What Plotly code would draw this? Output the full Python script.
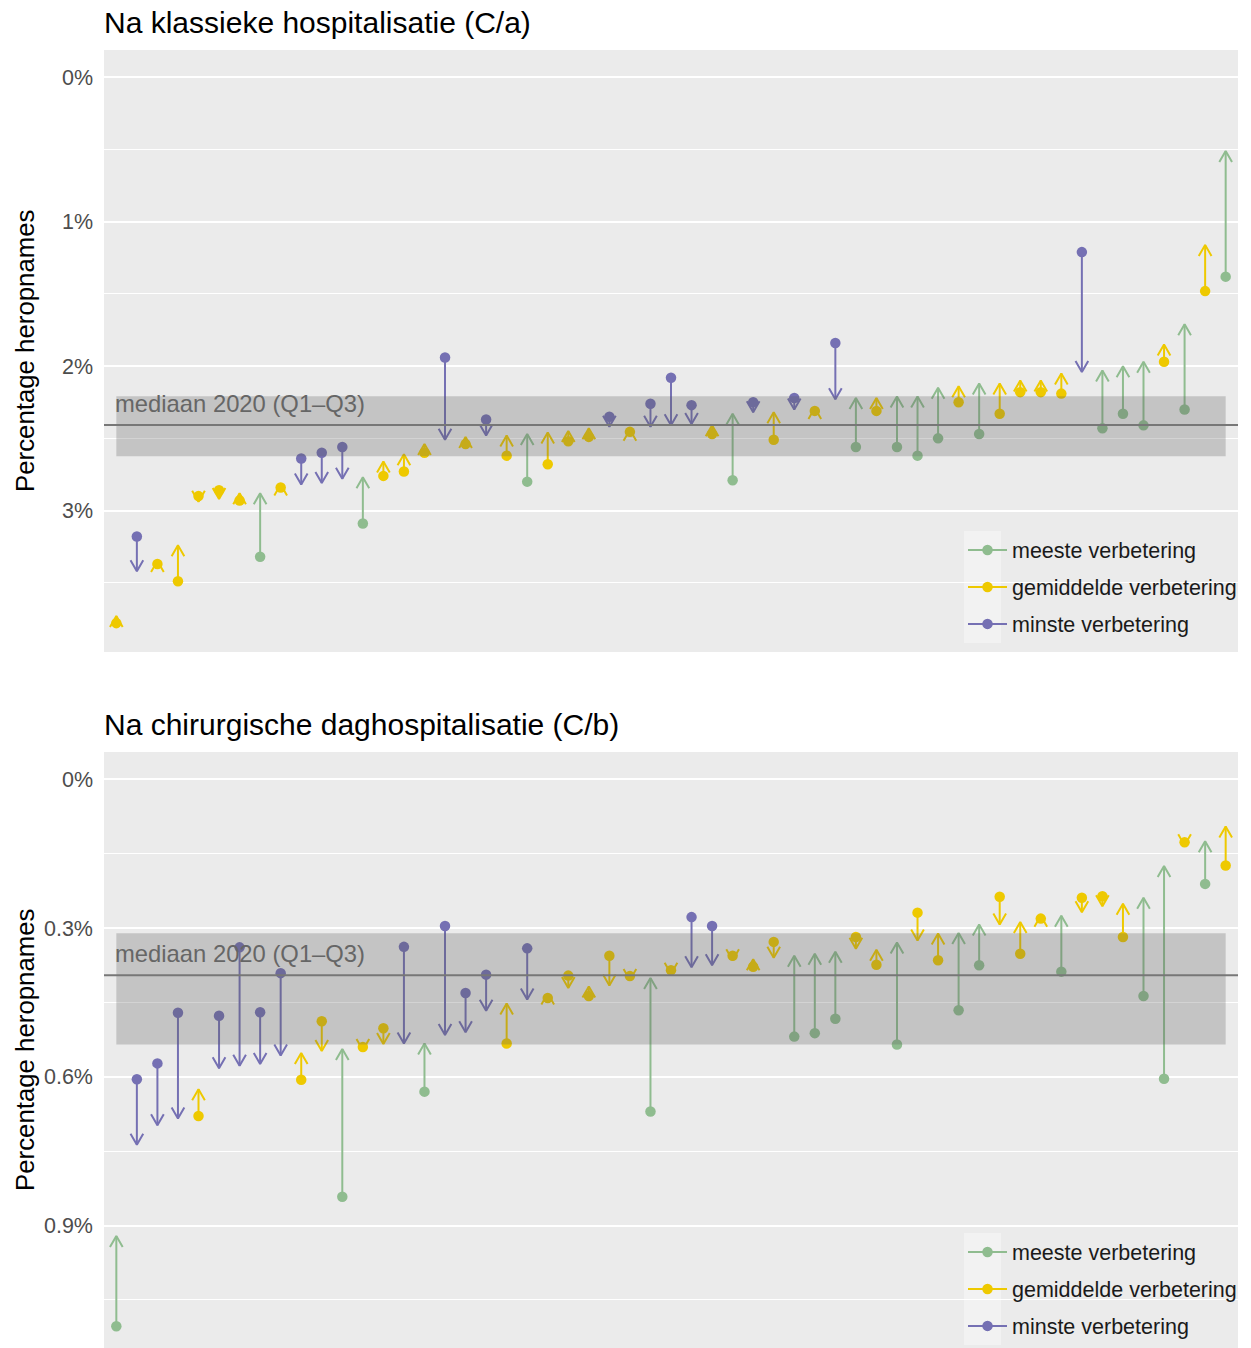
import plotly.graph_objects as go

# ---------------------------------------------------------------------------
# Data: readmission percentage per hospital, start value (dot) and new value
# (arrow tip). Hospitals are ordered left to right. Group codes:
#   M = meeste verbetering, G = gemiddelde verbetering, L = minste verbetering
# ---------------------------------------------------------------------------

# Panel C/a: na klassieke hospitalisatie
group_a = ["G", "L", "G", "G", "G", "G", "G", "M", "G", "L",
           "L", "L", "M", "G", "G", "G", "L", "G", "L", "G",
           "M", "G", "G", "G", "L", "G", "L", "L", "L", "G",
           "M", "L", "G", "L", "G", "L", "M", "G", "M", "M",
           "M", "G", "M", "G", "G", "G", "G", "L", "M", "M",
           "M", "G", "M", "G", "M"]
start_a = [3.78, 3.18, 3.37, 3.49, 2.90, 2.86, 2.93, 3.32, 2.84, 2.64,
           2.60, 2.56, 3.09, 2.76, 2.73, 2.60, 1.94, 2.54, 2.37, 2.62,
           2.80, 2.68, 2.52, 2.49, 2.35, 2.455, 2.26, 2.08, 2.27, 2.47,
           2.79, 2.25, 2.51, 2.22, 2.31, 1.84, 2.56, 2.31, 2.56, 2.62,
           2.50, 2.25, 2.47, 2.33, 2.18, 2.18, 2.19, 1.21, 2.43, 2.33,
           2.41, 1.97, 2.30, 1.48, 1.38]
end_a = [3.73, 3.42, 3.35, 3.24, 2.94, 2.92, 2.88, 2.88, 2.82, 2.82,
         2.81, 2.78, 2.77, 2.66, 2.61, 2.54, 2.51, 2.49, 2.48, 2.48,
         2.47, 2.46, 2.45, 2.43, 2.42, 2.44, 2.42, 2.41, 2.40, 2.41,
         2.33, 2.32, 2.32, 2.30, 2.29, 2.23, 2.22, 2.22, 2.21, 2.21,
         2.15, 2.14, 2.12, 2.12, 2.10, 2.10, 2.05, 2.04, 2.03, 2.00,
         1.97, 1.85, 1.71, 1.16, 0.51]
median_a, q1_a, q3_a = 2.408, 2.209, 2.624

# Panel C/b: na chirurgische daghospitalisatie
group_b = ["M", "L", "L", "L", "G", "L", "L", "L", "L", "G",
           "G", "M", "G", "G", "L", "M", "L", "L", "L", "G",
           "L", "G", "G", "G", "G", "G", "M", "G", "L", "L",
           "G", "G", "G", "M", "M", "M", "G", "G", "M", "G",
           "G", "M", "M", "G", "G", "G", "M", "G", "G", "G",
           "M", "M", "G", "M", "G"]
start_b = [1.103, 0.605, 0.573, 0.471, 0.679, 0.477, 0.339, 0.470, 0.391, 0.606,
           0.488, 0.842, 0.540, 0.502, 0.338, 0.630, 0.296, 0.431, 0.394, 0.533,
           0.341, 0.441, 0.396, 0.437, 0.356, 0.397, 0.670, 0.385, 0.278, 0.296,
           0.356, 0.378, 0.328, 0.519, 0.512, 0.483, 0.318, 0.374, 0.535, 0.269,
           0.365, 0.466, 0.375, 0.237, 0.352, 0.281, 0.388, 0.239, 0.236, 0.318,
           0.437, 0.604, 0.127, 0.211, 0.174]
end_b = [0.921, 0.737, 0.698, 0.684, 0.625, 0.583, 0.578, 0.574, 0.557, 0.552,
         0.548, 0.544, 0.546, 0.534, 0.533, 0.533, 0.516, 0.510, 0.467, 0.452,
         0.444, 0.432, 0.421, 0.418, 0.416, 0.405, 0.401, 0.392, 0.379, 0.375,
         0.365, 0.363, 0.360, 0.356, 0.352, 0.348, 0.342, 0.344, 0.329, 0.325,
         0.311, 0.310, 0.293, 0.293, 0.288, 0.275, 0.275, 0.268, 0.256, 0.251,
         0.239, 0.175, 0.133, 0.125, 0.095]
median_b, q1_b, q3_b = 0.395, 0.3106, 0.535

titles = ["Na klassieke hospitalisatie (C/a)",
          "Na chirurgische daghospitalisatie (C/b)"]
y_title = "Percentage heropnames"
band_label = "mediaan 2020 (Q1\u2013Q3)"

group_names = {"M": "meeste verbetering",
               "G": "gemiddelde verbetering",
               "L": "minste verbetering"}
group_colors = {"M": "#8FBC8F", "G": "#EEC900", "L": "#7570B3"}

ticks_a = [0, 1, 2, 3]
minor_a = [0.5, 1.5, 2.5, 3.5]
ticks_b = [0, 0.3, 0.6, 0.9]
minor_b = [0.15, 0.45, 0.75, 1.05]

# ---------------------------------------------------------------------------
# Geometry / style
# ---------------------------------------------------------------------------
W, H = 1251, 1348
ML, MR, MT, MB = 104, 13, 50, 0
PW, PH = W - ML - MR, H - MT - MB
FONT = "Liberation Sans, Arial, sans-serif"

X_RANGE = [0.4, 55.6]
Y_RANGE_A = [3.98, -0.19]
Y_RANGE_B = [1.147, -0.055]
# panel pixel extents (top, bottom) measured from the top of the figure
PANEL_A = (50, 652)
PANEL_B = (752, 1348)

HEAD_DX_PX = 6.35   # half width of the open arrow head
HEAD_DY_PX = 11.0   # depth of the open arrow head
LINE_W = 2.0
DOT_SIZE = 10.5


def dom(panel):
    top, bot = panel
    return [(H - MB - bot) / PH, (H - MB - top) / PH]


def arrow_xy(xs, s, e, yr, panel):
    ux = (X_RANGE[1] - X_RANGE[0]) / PW
    uy = abs(yr[0] - yr[1]) / (panel[1] - panel[0])
    bx, by = HEAD_DX_PX * ux, HEAD_DY_PX * uy
    X, Y = [], []
    for xi, si, ei in zip(xs, s, e):
        d = 1 if si > ei else -1
        X += [xi, xi, None, xi - bx, xi, xi + bx, None]
        Y += [si, ei, None, ei + d * by, ei, ei + d * by, None]
    return X, Y


fig = go.Figure()

panels = [
    (group_a, start_a, end_a, "x", "y", "legend", Y_RANGE_A, PANEL_A),
    (group_b, start_b, end_b, "x2", "y2", "legend2", Y_RANGE_B, PANEL_B),
]

for groups, s, e, xa, ya, leg, yr, panel in panels:
    xs = list(range(1, len(s) + 1))
    for code in ["M", "G", "L"]:
        idx = [i for i, g in enumerate(groups) if g == code]
        gx = [xs[i] for i in idx]
        gs = [s[i] for i in idx]
        ge = [e[i] for i in idx]
        ax_, ay_ = arrow_xy(gx, gs, ge, yr, panel)
        fig.add_trace(go.Scatter(
            x=ax_, y=ay_, mode="lines", xaxis=xa, yaxis=ya,
            line=dict(color=group_colors[code], width=LINE_W),
            legendgroup=leg + code, legend=leg, showlegend=False,
            hoverinfo="skip"))
        dx, dy = [], []
        for xi, si in zip(gx, gs):
            dx += [xi, None]
            dy += [si, None]
        fig.add_trace(go.Scatter(
            x=dx, y=dy, mode="lines+markers", xaxis=xa, yaxis=ya,
            name=group_names[code], legendgroup=leg + code, legend=leg,
            line=dict(color=group_colors[code], width=LINE_W),
            marker=dict(color=group_colors[code], size=DOT_SIZE, line=dict(width=0)),
            connectgaps=False))

axis_common = dict(showgrid=True, gridcolor="white", gridwidth=2.2,
                   zeroline=False, showline=False, ticks="",
                   tickfont=dict(size=21.5, color="#4D4D4D", family=FONT))

fig.update_layout(
    width=W, height=H,
    margin=dict(l=ML, r=MR, t=MT, b=MB, pad=0),
    paper_bgcolor="white", plot_bgcolor="#EBEBEB",
    font=dict(family=FONT, color="#1A1A1A"),
    xaxis=dict(domain=[0, 1], anchor="y", range=X_RANGE, showgrid=False,
               showticklabels=False, zeroline=False, ticks=""),
    xaxis2=dict(domain=[0, 1], anchor="y2", range=X_RANGE, showgrid=False,
                showticklabels=False, zeroline=False, ticks=""),
    yaxis=dict(domain=dom(PANEL_A), anchor="x", range=Y_RANGE_A,
               tickvals=ticks_a, ticktext=[f"{v:g}%" for v in ticks_a],
               minor=dict(tickvals=minor_a, showgrid=True, gridcolor="white",
                          gridwidth=1.1, ticks=""),
               ticklabelstandoff=10, **axis_common),
    yaxis2=dict(domain=dom(PANEL_B), anchor="x2", range=Y_RANGE_B,
                tickvals=ticks_b, ticktext=[f"{v:g}%" for v in ticks_b],
                minor=dict(tickvals=minor_b, showgrid=True, gridcolor="white",
                           gridwidth=1.1, ticks=""),
                ticklabelstandoff=10, **axis_common),
    showlegend=True,
)

legend_common = dict(xref="paper", x=(963 - ML) / PW, xanchor="left",
                     yanchor="middle", bgcolor="rgba(0,0,0,0)",
                     font=dict(size=21.5, color="#1A1A1A", family=FONT),
                     traceorder="grouped", tracegroupgap=6, itemwidth=39)
fig.update_layout(
    legend=dict(y=(H - MB - 587) / PH, **legend_common),
    legend2=dict(y=(H - MB - 1289) / PH, **legend_common),
)

shapes = []
annotations = []
for (groups, s, e, xa, ya, leg, yr, panel), (med, q1, q3), title in zip(
        panels, [(median_a, q1_a, q3_a), (median_b, q1_b, q3_b)], titles):
    n = len(s)
    top, bot = panel
    # interquartile band of 2020, drawn over the arrows
    shapes.append(dict(type="rect", xref=xa, yref=ya, x0=1, x1=n, y0=q1, y1=q3,
                       fillcolor="#595959", opacity=0.267, line=dict(width=0),
                       layer="above"))
    shapes.append(dict(type="line", xref=xa + " domain", yref=ya, x0=0, x1=1,
                       y0=med, y1=med, line=dict(color="#777777", width=2),
                       layer="above"))
    annotations.append(dict(text=band_label, xref=xa, yref=ya, x=1, y=med,
                            xanchor="left", yanchor="bottom", showarrow=False,
                            xshift=-3, yshift=6,
                            font=dict(size=23.8, color="#666666", family=FONT)))
    annotations.append(dict(text=title, xref="paper", yref="paper", x=0,
                            y=(H - MB - (top - 7)) / PH, xanchor="left",
                            yanchor="bottom", showarrow=False, xshift=-2,
                            yshift=2,
                            font=dict(size=30, color="#000000", family=FONT)))
    annotations.append(dict(text=y_title, xref="paper", yref=ya + " domain",
                            x=(25 - ML) / PW, y=0.5, xanchor="center",
                            yanchor="middle", textangle=-90, showarrow=False,
                            font=dict(size=25.8, color="#000000", family=FONT)))

# legend key backgrounds (pixel boxes converted to axis-domain fractions)
for xd, ya, (top, bot), (k0, k1) in [("x domain", "y", PANEL_A, (531, 643)),
                                      ("x2 domain", "y2", PANEL_B, (1233, 1345))]:
    hpx = bot - top
    shapes.append(dict(type="rect", xref=xd, yref=ya + " domain",
                       x0=(964 - ML) / PW, x1=(1001 - ML) / PW,
                       y0=(bot - k1) / hpx, y1=(bot - k0) / hpx,
                       fillcolor="rgba(255,255,255,0.35)", line=dict(width=0),
                       layer="above"))

fig.update_layout(shapes=shapes, annotations=annotations)

fig.write_html("out.html")
